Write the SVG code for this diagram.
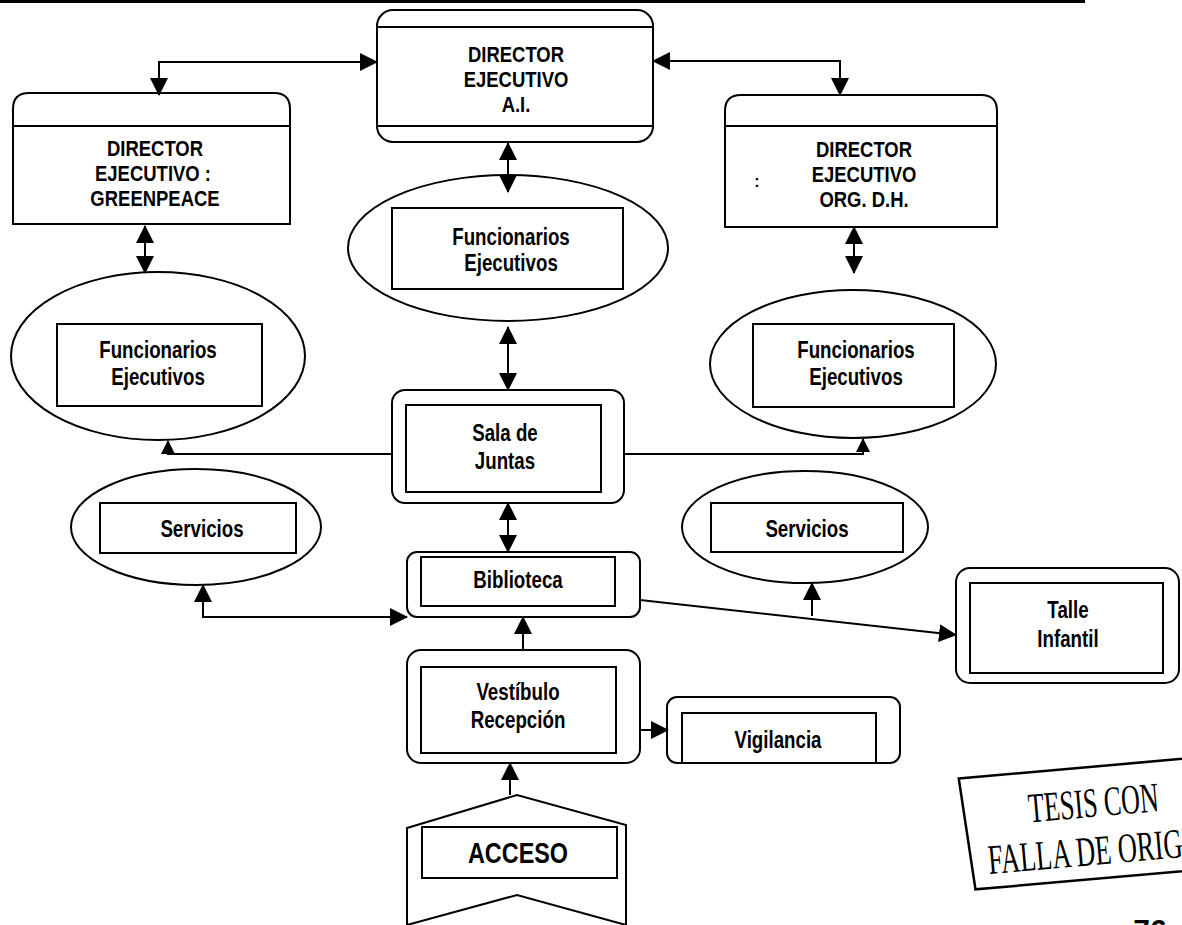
<svg xmlns="http://www.w3.org/2000/svg" width="1182" height="925" viewBox="0 0 1182 925">
<style>
.s{fill:none;stroke:#000;stroke-width:2}
.w{fill:#fff;stroke:#000;stroke-width:2}
.t{font-family:'Liberation Sans',Arial,sans-serif;font-weight:bold;font-size:24px;fill:#000;text-anchor:middle}
.h{font-family:'Liberation Sans',Arial,sans-serif;font-weight:bold;font-size:22px;fill:#000;text-anchor:middle}
.c{fill:none;stroke:#000;stroke-width:2}
.st{font-family:'Liberation Serif','Times New Roman',serif;font-size:42px;fill:#000}
</style>
<defs>
<marker id="ah" markerUnits="userSpaceOnUse" markerWidth="18" markerHeight="18" refX="17" refY="9" orient="auto-start-reverse" viewBox="0 0 18 18">
<path d="M0,0 L18,9 L0,18 Z" fill="#000"/>
</marker>
<marker id="ahs" markerUnits="userSpaceOnUse" markerWidth="16" markerHeight="14" refX="13" refY="7" orient="auto-start-reverse" viewBox="0 0 14 14">
<path d="M0,0 L14,7 L0,14 Z" fill="#000"/>
</marker>
</defs>
<rect width="1182" height="925" fill="#fff"/>
<line x1="0" y1="1.5" x2="1085" y2="1.5" stroke="#000" stroke-width="3"/>

<g id="director-ai">
<rect class="w" x="377" y="10" width="276" height="132" rx="16"/>
<line class="s" x1="377" y1="27" x2="653" y2="27"/>
<line class="s" x1="377" y1="126" x2="653" y2="126"/>
<text class="h" transform="translate(516 62) scale(0.84 1)">DIRECTOR</text>
<text class="h" transform="translate(516 87) scale(0.84 1)">EJECUTIVO</text>
<text class="h" transform="translate(516 112) scale(0.84 1)">A.I.</text>
</g>

<g id="director-greenpeace">
<path class="w" d="M13,224 V109 Q13,93 29,93 H274 Q290,93 290,109 V224 Z"/>
<line class="s" x1="13" y1="126" x2="290" y2="126"/>
<text class="h" transform="translate(155 156) scale(0.84 1)">DIRECTOR</text>
<text class="h" transform="translate(153 181) scale(0.84 1)">EJECUTIVO :</text>
<text class="h" transform="translate(155 206) scale(0.84 1)">GREENPEACE</text>
</g>

<g id="director-orgdh">
<path class="w" d="M725,227 V111 Q725,95 741,95 H981 Q997,95 997,111 V227 Z"/>
<line class="s" x1="725" y1="126" x2="997" y2="126"/>
<text class="h" transform="translate(864 157) scale(0.84 1)">DIRECTOR</text>
<text class="h" transform="translate(864 182) scale(0.84 1)">EJECUTIVO</text>
<text class="h" transform="translate(864 207) scale(0.84 1)">ORG. D.H.</text>
<text class="t" x="757" y="187" style="font-size:16px">:</text>
</g>

<g id="funcionarios-centro">
<ellipse class="w" cx="508" cy="248" rx="160" ry="73"/>
<rect class="w" x="392" y="208" width="231" height="81"/>
<text class="t" transform="translate(511 245) scale(0.78 1)">Funcionarios</text>
<text class="t" transform="translate(511 271) scale(0.78 1)">Ejecutivos</text>
</g>

<g id="funcionarios-izq">
<ellipse class="w" cx="158" cy="356" rx="147" ry="84"/>
<rect class="w" x="57" y="324" width="205" height="82"/>
<text class="t" transform="translate(158 358) scale(0.78 1)">Funcionarios</text>
<text class="t" transform="translate(158 385) scale(0.78 1)">Ejecutivos</text>
</g>

<g id="funcionarios-der">
<ellipse class="w" cx="853" cy="364" rx="143" ry="74"/>
<rect class="w" x="753" y="324" width="201" height="83"/>
<text class="t" transform="translate(856 358) scale(0.78 1)">Funcionarios</text>
<text class="t" transform="translate(856 385) scale(0.78 1)">Ejecutivos</text>
</g>

<g id="sala-juntas">
<rect class="w" x="392" y="390" width="232" height="113" rx="13"/>
<rect class="w" x="406" y="405" width="195" height="87"/>
<text class="t" transform="translate(505 441) scale(0.78 1)">Sala de</text>
<text class="t" transform="translate(505 469) scale(0.78 1)">Juntas</text>
</g>

<g id="servicios-izq">
<ellipse class="w" cx="196" cy="527" rx="125" ry="58"/>
<rect class="w" x="100" y="503" width="196" height="50"/>
<text class="t" transform="translate(202 537) scale(0.78 1)">Servicios</text>
</g>

<g id="servicios-der">
<ellipse class="w" cx="805" cy="527" rx="123" ry="56"/>
<rect class="w" x="711" y="503" width="192" height="49"/>
<text class="t" transform="translate(807 537) scale(0.78 1)">Servicios</text>
</g>

<g id="biblioteca">
<rect class="w" x="407" y="552" width="233" height="65" rx="10"/>
<rect class="w" x="421" y="557" width="194" height="49"/>
<text class="t" transform="translate(518 588) scale(0.78 1)">Biblioteca</text>
</g>

<g id="talle-infantil">
<rect class="w" x="956" y="568" width="223" height="115" rx="14"/>
<rect class="w" x="970" y="583" width="193" height="90"/>
<text class="t" transform="translate(1068 618) scale(0.78 1)">Talle</text>
<text class="t" transform="translate(1068 647) scale(0.78 1)">Infantil</text>
</g>

<g id="vestibulo">
<rect class="w" x="407" y="650" width="233" height="113" rx="14"/>
<rect class="w" x="421" y="667" width="195" height="86"/>
<text class="t" transform="translate(518 700) scale(0.78 1)">Vestíbulo</text>
<text class="t" transform="translate(518 728) scale(0.78 1)">Recepción</text>
</g>

<g id="vigilancia">
<rect class="w" x="667" y="697" width="233" height="66" rx="10"/>
<path class="s" d="M682,763 V713 H876 V763"/>
<text class="t" transform="translate(778 748) scale(0.78 1)">Vigilancia</text>
</g>

<g id="acceso">
<polygon class="w" points="407,828 517,795 626,825 626,925 517,895 407,925"/>
<rect class="w" x="422" y="827" width="195" height="51"/>
<text class="t" transform="translate(518 863) scale(0.78 1)" style="font-size:30px">ACCESO</text>
</g>

<g id="connectors">
<path class="c" d="M377,62 H159 V95" marker-start="url(#ah)" marker-end="url(#ah)"/>
<path class="c" d="M653,61 H840 V95" marker-start="url(#ah)" marker-end="url(#ah)"/>
<path class="c" d="M508,143 V192" marker-start="url(#ah)" marker-end="url(#ah)"/>
<path class="c" d="M145,226 V273" marker-start="url(#ah)" marker-end="url(#ah)"/>
<path class="c" d="M854,227 V273" marker-start="url(#ah)" marker-end="url(#ah)"/>
<path class="c" d="M508,327 V390" marker-start="url(#ah)" marker-end="url(#ah)"/>
<path class="c" d="M392,454 H168 V441" marker-end="url(#ahs)"/>
<path class="c" d="M624,454 H863 V439" marker-end="url(#ahs)"/>
<path class="c" d="M508,503 V552" marker-start="url(#ah)" marker-end="url(#ah)"/>
<path class="c" d="M407,617 H203 V585" marker-start="url(#ah)" marker-end="url(#ah)"/>
<path class="c" d="M640,600 L956,635" marker-end="url(#ah)"/>
<path class="c" d="M812,616 V583" marker-end="url(#ah)"/>
<path class="c" d="M523,650 V617" marker-end="url(#ah)"/>
<path class="c" d="M640,730 H668" marker-end="url(#ah)"/>
<path class="c" d="M510,795 V763" marker-end="url(#ah)"/>
</g>

<g id="sello" transform="rotate(-5 1080 822)">
<polygon points="963,768 1230,768 1230,880 970,880" fill="none" stroke="#000" stroke-width="2.5"/>
<text class="st" transform="translate(1095 818) scale(0.62 1)" text-anchor="middle">TESIS CON</text>
<text class="st" transform="translate(985 866) scale(0.63 1)">FALLA DE ORIGEN</text>
</g>
<text x="1150" y="940" font-family="'Liberation Sans',Arial,sans-serif" font-weight="bold" font-size="30" text-anchor="middle">76</text>
</svg>
